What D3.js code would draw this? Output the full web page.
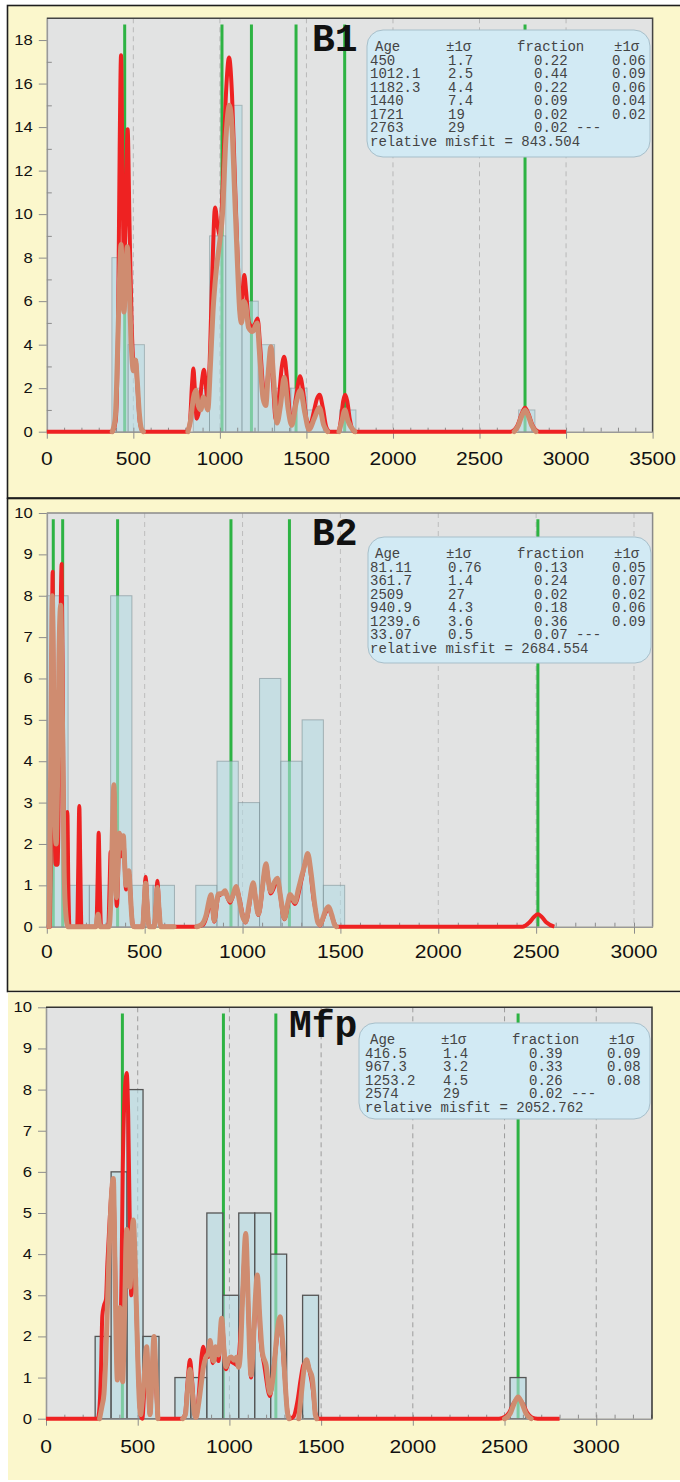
<!DOCTYPE html>
<html>
<head>
<meta charset="utf-8">
<script src="https://d3js.org/d3.v7.min.js"></script>
<style>
  body { margin: 0; background: #fff; }
  svg { display: block; }
</style>
</head>
<body>
<div id="chart"></div>
<script>
// ---------- data ----------
var tableHeader = ["Age", "\u00b11\u03c3", "fraction", "\u00b11\u03c3"];

// B1
var b1Ages = [450, 1012.1, 1182.3, 1440, 1721, 2763];
var b1Table = [
  ["450", "1.7", "0.22", "0.06"],
  ["1012.1", "2.5", "0.44", "0.09"],
  ["1182.3", "4.4", "0.22", "0.06"],
  ["1440", "7.4", "0.09", "0.04"],
  ["1721", "19", "0.02", "0.02"],
  ["2763", "29", "0.02 ---", ""]
];
var b1Misfit = "843.504";
var b1BinStart = 376, b1BinWidth = 94;
var b1Counts = [8, 4, 0, 0, 0, 2, 9, 15, 6, 4, 2, 2, 1, 0, 1, 0, 0, 0, 0, 0, 0, 0, 0, 0, 0, 1];
var b1Red = [[0,0],[380,0],[398,0.5],[412,5],[421,13],[429,17.3],[437,12],[446,7.6],[455,9.5],[467,13.9],[478,9.5],[490,5],[502,3.2],[513,3.3],[524,2],[538,0.4],[556,0],
  [805,0],[825,0.3],[840,2.3],[847,2.9],[855,2],[866,0.6],[880,1],[896,2.3],[908,2.85],[918,2.2],[926,1.6],[940,3],[955,7],[972,10.3],[988,9.4],[1001,9.0],[1015,11],[1035,15.5],[1053,17.2],[1070,15.5],[1085,12],[1105,7.5],[1120,5.3],[1132,6.5],[1141,7.2],[1152,6.4],[1168,5.0],[1190,4.8],[1205,5.0],[1218,5.2],[1232,4.0],[1250,2],[1263,1.5],[1278,2.6],[1292,3.3],[1306,2.3],[1322,0.6],[1340,1.5],[1358,3],[1372,3.45],[1388,2.4],[1405,0.8],[1420,0.6],[1440,1.6],[1463,2.55],[1482,1.8],[1500,0.6],[1520,0.3],[1545,1.0],[1560,1.5],[1576,1.7],[1595,1.1],[1615,0.2],[1635,0],[1685,0],[1700,0.6],[1712,1.4],[1724,1.7],[1736,1.4],[1750,0.6],[1775,0],
  [2680,0],[2720,0.3],[2745,0.85],[2763,1.1],[2781,0.85],[2806,0.3],[2845,0],[3000,0]];
var b1Brown = [
  [[378,0],[395,0.6],[410,4],[420,7],[429,8.6],[437,7],[446,5.5],[455,7],[465,8.5],[475,7],[488,4],[500,2.8],[507,3.0],[513,3.3],[522,2.4],[535,0.8],[548,0.1],[558,0]],
  [[815,0],[830,0.5],[848,1.6],[862,1.9],[875,1.2],[890,1.0],[905,1.6],[918,1.3],[930,1.0],[945,3],[960,5.5],[980,7.5],[1000,8.8],[1015,10],[1035,13.5],[1055,15],[1070,14],[1085,11],[1100,8],[1115,5.5],[1125,5.0],[1138,6],[1150,5.8],[1165,4.8],[1190,4.6],[1215,5.0],[1230,3.5],[1250,1.5],[1265,1.2],[1280,2.8],[1295,3.9],[1310,2.5],[1330,0.4],[1350,1.2],[1372,2.5],[1395,1.0],[1415,0.3],[1440,1.3],[1465,1.9],[1490,0.9],[1515,0.1],[1545,0.6],[1575,1.1],[1600,0.3],[1622,0]],
  [[1688,0],[1705,0.5],[1722,1.0],[1740,0.5],[1780,0]],
  [[2700,0],[2725,0.3],[2745,0.75],[2763,1.0],[2781,0.75],[2801,0.3],[2826,0]]
];

// B2
var b2Ages = [81.11, 361.7, 2509, 940.9, 1239.6, 33.07];
var b2Table = [
  ["81.11", "0.76", "0.13", "0.05"],
  ["361.7", "1.4", "0.24", "0.07"],
  ["2509", "27", "0.02", "0.02"],
  ["940.9", "4.3", "0.18", "0.06"],
  ["1239.6", "3.6", "0.36", "0.09"],
  ["33.07", "0.5", "0.07 ---", ""]
];
var b2Misfit = "2684.554";
var b2BinStart = 0, b2BinWidth = 108.7;
var b2Counts = [8, 1, 1, 8, 1, 1, 0, 1, 4, 3, 6, 4, 5, 1];
var b2Red = [[0,0],[16,0],[22,3],[30,8.58],[37,4],[45,1.5],[55,1.5],[65,5],[76,8.77],[84,4],[92,1],[99,1.5],[105,2.77],[110,1],[116,0],[155,0],[161,1.5],[166,2.92],[171,1.5],[177,0],[253,0],[260,1.2],[265,2.27],[270,1.2],[277,0],[314,0],[321,1],[326,1.81],[333,1.5],[343,3.3],[352,1.0],[358,0.5],[371,2.1],[381,1.7],[391,2.1],[405,0.9],[419,1.3],[432,0.4],[442,0],[488,0],[497,0.6],[505,1.21],[513,0.6],[522,0],[548,0],[557,0.5],[565,1.11],[573,0.5],[582,0],
  [765,0],[800,0.05],[825,0.4],[839,0.72],[855,0.12],[877,0.74],[911,0.82],[936,0.58],[967,0.92],[1016,0.1],[1055,1.0],[1081,0.28],[1120,1.45],[1144,0.8],[1178,1.1],[1214,0.18],[1243,0.72],[1268,0.55],[1302,1.15],[1333,1.7],[1365,0.6],[1396,0.03],[1420,0.3],[1440,0.44],[1460,0.2],[1480,0],
  [2430,0],[2465,0.1],[2490,0.24],[2509,0.3],[2528,0.24],[2553,0.1],[2593,0]];
var b2Brown = [
  [[12,0],[20,4],[28,8.0],[35,5.5],[42,2.5],[48,2],[55,3.5],[62,6.5],[71,7.77],[80,5],[88,1.5],[96,0.4],[108,0],[250,0],[262,0.3],[272,0],[318,0],[328,0.8],[336,2.5],[343,3.43],[349,2],[356,0.7],[364,1.6],[371,2.26],[379,1.9],[386,1.9],[391,2.2],[398,1.5],[405,1.0],[412,1.1],[419,1.35],[428,0.7],[438,0.05],[448,0],[490,0],[497,0.5],[505,1.05],[513,0.5],[522,0],[550,0],[557,0.45],[565,0.95],[573,0.45],[582,0],[650,0]],
  [[766,0],[790,0.05],[815,0.3],[830,0.65],[839,0.77],[847,0.5],[855,0.15],[865,0.5],[877,0.79],[895,0.8],[911,0.87],[925,0.7],[936,0.63],[950,0.75],[967,0.97],[985,0.6],[1000,0.25],[1016,0.12],[1035,0.6],[1055,1.06],[1068,0.6],[1081,0.3],[1100,0.9],[1120,1.52],[1132,1.1],[1144,0.85],[1160,1.05],[1178,1.17],[1195,0.7],[1214,0.2],[1230,0.55],[1243,0.78],[1255,0.7],[1268,0.6],[1285,0.9],[1302,1.22],[1318,1.5],[1333,1.77],[1350,1.3],[1370,0.5],[1385,0.1],[1396,0.05],[1410,0.2],[1425,0.4],[1440,0.48],[1455,0.3],[1470,0.05],[1480,0]]
];

// Mfp
var mfpAges = [416.5, 967.3, 1253.2, 2574];
var mfpTable = [
  ["416.5", "1.4", "0.39", "0.09"],
  ["967.3", "3.2", "0.33", "0.08"],
  ["1253.2", "4.5", "0.26", "0.08"],
  ["2574", "29", "0.02 ---", ""]
];
var mfpMisfit = "2052.762";
var mfpBinStart = 268, mfpBinWidth = 87;
var mfpCounts = [2, 6, 8, 2, 0, 1, 1, 5, 3, 5, 5, 4, 0, 3, 0, 0, 0, 0, 0, 0, 0, 0, 0, 0, 0, 0, 1];
var mfpRed = [[0,0],[282,0],[292,0.3],[300,1.2],[307,2.5],[316,2.75],[327,2.9],[335,3.8],[342,4.4],[352,5.2],[362,5.7],[370,5.3],[380,3],[390,1.0],[398,1.3],[405,2.0],[412,3.5],[418,5.9],[428,7.8],[440,8.4],[448,7.4],[456,5.0],[465,3.0],[476,4.5],[490,3.0],[502,1.3],[515,0.1],[525,0],[537,0.8],[549,1.7],[558,0.8],[567,0.1],[578,1.0],[589,1.9],[600,0.8],[612,0],
  [740,0],[758,0.1],[772,0.9],[785,1.43],[797,0.9],[810,0.15],[820,0.05],[835,0.7],[848,1.5],[858,1.75],[870,1.5],[885,1.5],[895,1.8],[910,1.35],[925,1.6],[940,1.4],[958,2.35],[981,1.2],[1000,1.4],[1025,1.35],[1045,1.3],[1065,2.4],[1089,4.3],[1105,2.4],[1118,1.0],[1135,2.2],[1152,3.3],[1170,1.9],[1190,1.3],[1221,0.55],[1245,1.4],[1276,2.35],[1300,1.1],[1316,0.2],[1330,0],[1350,0.05],[1370,0.4],[1390,1.0],[1403,1.3],[1421,1.38],[1440,1.1],[1455,0.7],[1468,0.15],[1485,0],
  [2470,0],[2500,0.04],[2525,0.15],[2550,0.38],[2574,0.5],[2598,0.38],[2623,0.15],[2650,0.03],[2680,0],[2800,0]];
var mfpBrown = [
  [[292,0],[305,0.3],[316,0.6],[326,1.5],[340,3.5],[352,5],[367,5.84],[375,4],[382,2],[389,0.94],[397,2],[403,2.7],[410,1.5],[418,0.9],[428,2.5],[440,4.6],[450,4.0],[458,3.2],[468,4.4],[476,4.83],[486,3.8],[497,2.0],[507,0.6],[516,0.1],[522,0.3],[535,1.0],[549,1.75],[558,0.8],[567,0.1],[578,1.1],[589,2.0],[600,1.0],[610,0]],
  [[745,0],[760,0.1],[772,0.7],[785,1.2],[797,0.7],[810,0.1],[818,0.03],[830,0.3],[845,0.8],[858,1.25],[872,1.5],[885,1.6],[895,1.9],[905,1.5],[915,1.4],[925,1.75],[940,1.55],[958,2.44],[970,1.7],[981,1.26],[995,1.45],[1010,1.5],[1025,1.42],[1040,1.5],[1050,1.25],[1060,1.6],[1072,3.0],[1089,4.5],[1100,3.2],[1110,1.6],[1118,1.06],[1130,1.8],[1140,2.8],[1152,3.49],[1165,2.5],[1180,1.6],[1200,1.3],[1221,0.62],[1240,1.1],[1258,2.0],[1276,2.48],[1290,1.9],[1305,0.8],[1316,0.15],[1325,0]],
  [[1378,0],[1392,0.6],[1410,1.3],[1421,1.43],[1435,1.2],[1451,1.0],[1460,0.6],[1468,0.1],[1476,0]],
  [[2500,0],[2530,0.12],[2555,0.4],[2574,0.53],[2593,0.4],[2618,0.12],[2645,0]]
];

// ---------- drawing ----------
var svg = d3.select('#chart').append('svg')
  .attr('width', 680).attr('height', 1482);

var panels = [
  {title: "B1", ages: b1Ages, table: b1Table, misfit: b1Misfit,
   binStart: b1BinStart, binWidth: b1BinWidth, counts: b1Counts, red: b1Red, brown: b1Brown,
   box: [7.5, 5.5, 680, 492.5], boxStroke: true,
   left: 46.8, right: 652.6, top: 18.3, bottom: 431.7, xMax: 3500, yMax: 19, yStep: 2, yMinor: true,
   xLab: 33.3, frame: '#444', grid: '#b8b8b8', barStroke: 'rgba(110,130,135,0.45)',
   legend: [367, 30, 283, 127], textX: 370, titleX: 312, titleY: 51},
  {title: "B2", ages: b2Ages, table: b2Table, misfit: b2Misfit,
   binStart: b2BinStart, binWidth: b2BinWidth, counts: b2Counts, red: b2Red, brown: b2Brown,
   box: [7.5, 498.5, 680, 493], boxStroke: true,
   left: 46.8, right: 652.6, top: 513, bottom: 926.7, xMax: 3095, yMax: 10, yStep: 1, yMinor: false,
   xLab: 31.3, frame: '#8a8a8a', grid: '#bdbdbd', barStroke: 'rgba(110,130,135,0.5)',
   legend: [368, 537, 283, 126], textX: 370, titleX: 312, titleY: 545},
  {title: "Mfp", ages: mfpAges, table: mfpTable, misfit: mfpMisfit,
   binStart: mfpBinStart, binWidth: mfpBinWidth, counts: mfpCounts, red: mfpRed, brown: mfpBrown,
   box: [8, 992.5, 672, 487.5], boxStroke: false,
   left: 46, right: 652, top: 1007.3, bottom: 1418.7, xMax: 3304, yMax: 10, yStep: 1, yMinor: false,
   xLab: 34.3, frame: '#333', grid: '#9c9c9c', barStroke: '#555',
   legend: [359, 1023, 291, 96], textX: 365, titleX: 289, titleY: 1037}
];

panels.forEach(drawPanel);

function drawPanel(p) {
  var g = svg.append('g');

  g.append('rect')
    .attr('x', p.box[0]).attr('y', p.box[1]).attr('width', p.box[2]).attr('height', p.box[3])
    .attr('fill', '#fbf7cc')
    .attr('stroke', p.boxStroke ? '#1e1e1e' : 'none').attr('stroke-width', 1.6);

  var x = d3.scaleLinear().domain([0, p.xMax]).range([p.left, p.right]);
  var y = d3.scaleLinear().domain([0, p.yMax]).range([p.bottom, p.top]);

  g.append('rect')
    .attr('x', p.left).attr('y', p.top)
    .attr('width', p.right - p.left).attr('height', p.bottom - p.top)
    .attr('fill', '#e2e3e3');

  // dashed grid
  g.selectAll('.grid').data(d3.range(500, p.xMax, 500)).enter().append('line')
    .attr('x1', d => x(d)).attr('x2', d => x(d))
    .attr('y1', p.top).attr('y2', p.bottom)
    .attr('stroke', p.grid).attr('stroke-width', 1).attr('stroke-dasharray', '5,4');

  // component ages
  g.selectAll('.age').data(p.ages).enter().append('line')
    .attr('x1', d => x(d)).attr('x2', d => x(d))
    .attr('y1', y(0)).attr('y2', y(p.yMax * 0.985))
    .attr('stroke', '#2db343').attr('stroke-width', 3);

  // histogram
  var bins = p.counts.map((c, i) => ({lo: p.binStart + i * p.binWidth, n: c})).filter(d => d.n > 0);
  g.selectAll('.bar').data(bins).enter().append('rect')
    .attr('x', d => x(d.lo))
    .attr('width', d => x(d.lo + p.binWidth) - x(d.lo))
    .attr('y', d => y(d.n))
    .attr('height', d => y(0) - y(d.n))
    .attr('fill', 'rgba(180,219,227,0.6)')
    .attr('stroke', p.barStroke).attr('stroke-width', p.boxStroke ? 1 : 1.3);

  // axes
  var xt = d3.range(0, p.xMax + 1, 500);
  g.append('g').attr('transform', 'translate(0,' + p.bottom + ')')
    .call(d3.axisBottom(x).tickValues(xt).tickSize(7).tickFormat('').tickSizeOuter(0));
  var axBm = g.append('g').attr('transform', 'translate(0,' + p.bottom + ')')
    .call(d3.axisBottom(x).tickValues(d3.range(100, p.xMax, 100)).tickSize(-4).tickFormat(''));
  axBm.select('.domain').remove();
  var yt = d3.range(0, p.yMax + 0.001, p.yStep);
  g.append('g').attr('transform', 'translate(' + p.left + ',0)')
    .call(d3.axisLeft(y).tickValues(yt).tickSize(8).tickFormat('').tickSizeOuter(0));
  if (p.yMinor) {
    var axLm = g.append('g').attr('transform', 'translate(' + p.left + ',0)')
      .call(d3.axisLeft(y).tickValues(d3.range(1, p.yMax, 2)).tickSize(-5).tickFormat(''));
    axLm.select('.domain').remove();
  }
  g.selectAll('.domain').attr('stroke', '#999').attr('stroke-width', 1.6);
  g.selectAll('.tick line').attr('stroke', '#8c8c8c');

  g.selectAll('.xl').data(xt).enter().append('text')
    .attr('transform', d => 'translate(' + x(d) + ',' + (p.bottom + p.xLab) + ') scale(1.17,1)')
    .attr('text-anchor', 'middle')
    .attr('font-family', 'Liberation Sans, Arial, sans-serif').attr('font-size', 18)
    .attr('fill', '#111').text(d => d);

  g.selectAll('.yl').data(yt).enter().append('text')
    .attr('transform', d => 'translate(' + (p.left - 14) + ',' + (y(d) + 5) + ') scale(1.15,1)')
    .attr('text-anchor', 'end')
    .attr('font-family', 'Liberation Sans, Arial, sans-serif').attr('font-size', 14.5)
    .attr('fill', '#111').text(d => d);

  // curves
  var line = d3.line().x(d => x(d[0])).y(d => y(d[1])).curve(d3.curveMonotoneX);
  g.append('path').attr('d', line(p.red))
    .attr('fill', 'none').attr('stroke', '#ee2222').attr('stroke-width', 4)
    .attr('stroke-linejoin', 'round');
  g.selectAll('.kde').data(p.brown).enter().append('path')
    .attr('d', d => line(d))
    .attr('fill', 'none').attr('stroke', '#cf8c70').attr('stroke-width', 5)
    .attr('stroke-linejoin', 'round').attr('stroke-linecap', 'round');

  // plot frame, top and right
  g.append('path')
    .attr('d', 'M' + p.left + ',' + p.top + 'H' + p.right + 'V' + p.bottom)
    .attr('fill', 'none').attr('stroke', p.frame).attr('stroke-width', 1.5);

  // legend box
  var L = p.legend;
  g.append('rect')
    .attr('x', L[0]).attr('y', L[1]).attr('width', L[2]).attr('height', L[3])
    .attr('rx', 16).attr('ry', 16)
    .attr('fill', '#d2eaf4').attr('stroke', '#a7bfca').attr('stroke-width', 1);

  var lt = g.append('g')
    .attr('font-family', 'Liberation Mono, Courier New, monospace')
    .attr('font-size', 14).attr('fill', '#444');
  var hx = [5, 76, 147, 244];
  var cx = [0, 78, 164, 242];
  var base = L[1] + 21;
  tableHeader.forEach(function (h, i) {
    lt.append('text').attr('x', p.textX + hx[i]).attr('y', base).text(h);
  });
  p.table.forEach(function (row, r) {
    row.forEach(function (v, i) {
      lt.append('text').attr('x', p.textX + cx[i]).attr('y', base + 13.55 * (r + 1)).text(v);
    });
  });
  lt.append('text').attr('x', p.textX).attr('y', base + 13.55 * (p.table.length + 1))
    .text('relative misfit = ' + p.misfit);

  // sample name
  g.append('text').attr('x', p.titleX).attr('y', p.titleY)
    .attr('font-family', 'Liberation Mono, Courier New, monospace')
    .attr('font-weight', 'bold').attr('font-size', 38).attr('fill', '#111')
    .text(p.title);
}
</script>
</body>
</html>
